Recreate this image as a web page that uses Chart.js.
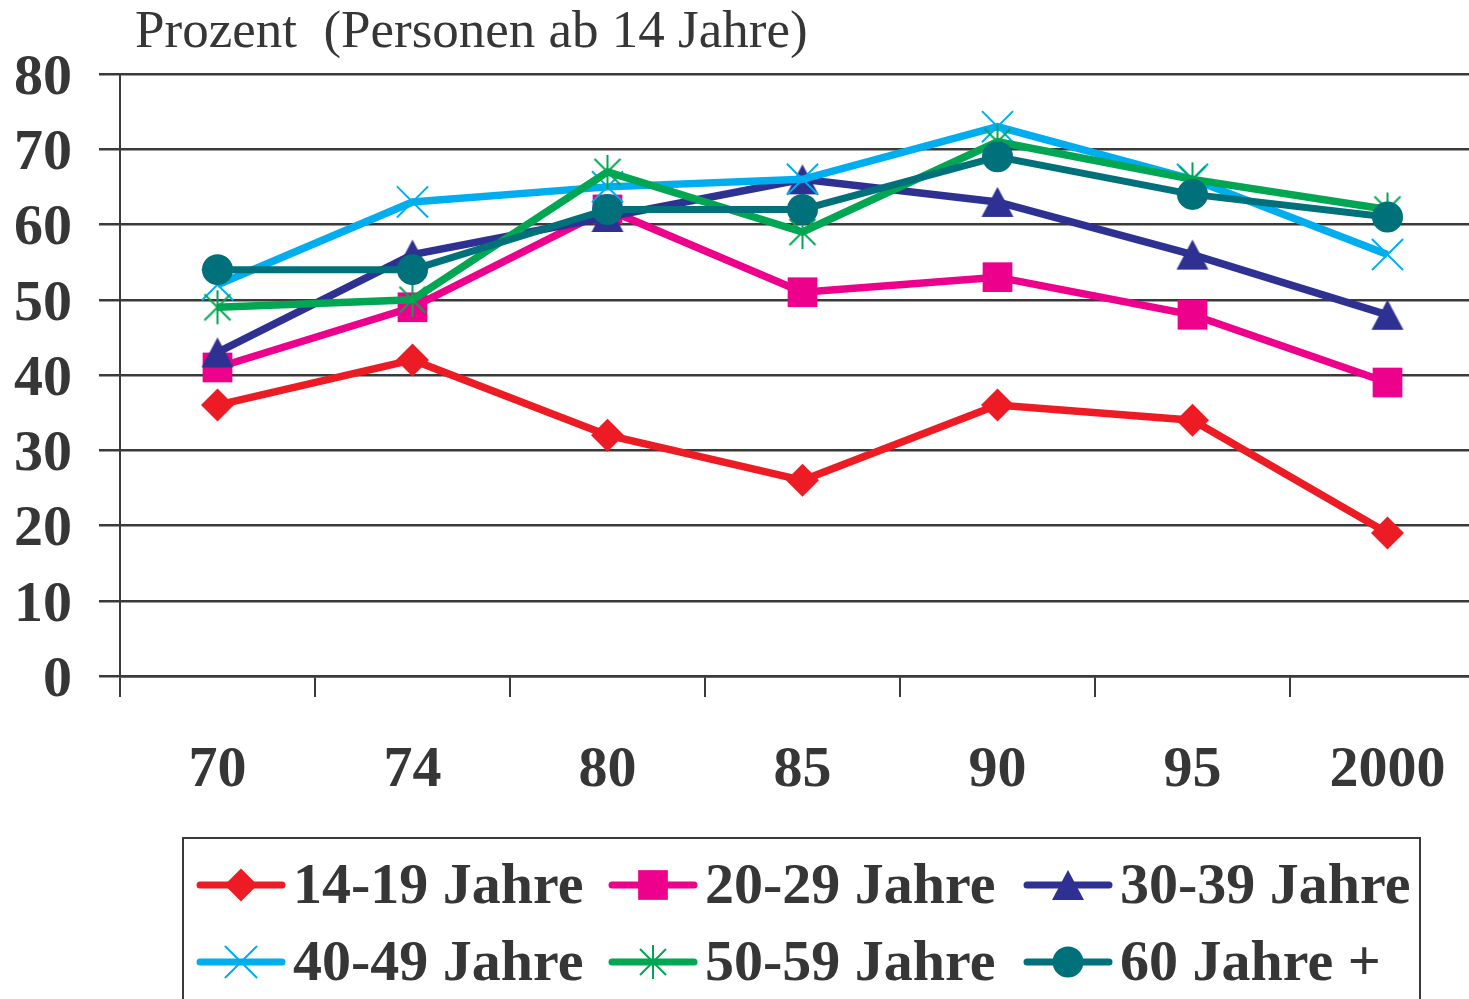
<!DOCTYPE html>
<html>
<head>
<meta charset="utf-8">
<script src="https://cdn.jsdelivr.net/npm/chart.js@4/dist/chart.umd.min.js"></script>
<style>
    html, body { margin: 0; padding: 0; background: #fff; overflow: hidden; }
    #wrap { position: relative; width: 1520px; height: 1020px; }
    #chart { width: 1520px; height: 1020px; }
</style>
</head>
<body>
<div id="wrap"><canvas id="chart" width="1520" height="1020"></canvas></div>
<script>
// --- Data ---
const years = ["70", "74", "80", "85", "90", "95", "2000"];
const yTicks = [0, 10, 20, 30, 40, 50, 60, 70, 80];
const seriesNames = ["14-19 Jahre", "20-29 Jahre", "30-39 Jahre", "40-49 Jahre", "50-59 Jahre", "60 Jahre +"];

const age14to19 = [36, 42, 32, 26, 36, 34, 19];
const age20to29 = [41, 49, 62, 51, 53, 48, 39];
const age30to39 = [43, 56, 61, 66, 63, 56, 48];
const age40to49 = [52, 63, 65, 66, 73, 66, 56];
const age50to59 = [49, 50, 67, 59, 71, 66, 62];
const age60plus = [54, 54, 62, 62, 69, 64, 61];

const titleText = "Prozent  (Personen ab 14 Jahre)";
const textColor = "#363636";
const gridColor = "#3a3a3a";

// Excel-like asterisk marker (X with a vertical bar)
function makeStar(color) {
    const c = document.createElement("canvas");
    c.width = 36; c.height = 36;
    const g = c.getContext("2d");
    g.strokeStyle = color;
    g.lineWidth = 2;
    g.beginPath();
    g.moveTo(18, 1); g.lineTo(18, 35);
    g.moveTo(5, 5); g.lineTo(31, 31);
    g.moveTo(31, 5); g.lineTo(5, 31);
    g.stroke();
    return c;
}

// filled triangle centred on its bounding box, like the Excel marker
function makeTriangle(color) {
    const c = document.createElement("canvas");
    c.width = 34; c.height = 32;
    const g = c.getContext("2d");
    g.fillStyle = color;
    g.beginPath();
    g.moveTo(17, 1); g.lineTo(33, 31); g.lineTo(1, 31);
    g.closePath();
    g.fill();
    return c;
}

function series(label, data, color, style, radius, lineWidth, pointBorder, order) {
    return {
        label: label,
        data: data,
        borderColor: color,
        backgroundColor: color,
        borderWidth: lineWidth,
        pointStyle: style,
        pointRadius: radius,
        pointHoverRadius: radius,
        pointBorderWidth: pointBorder,
        pointBackgroundColor: color,
        pointBorderColor: color,
        tension: 0,
        order: order
    };
}

// --- Plugins ---
const titlePlugin = {
    id: "topTitle",
    afterDraw(chart) {
        const ctx = chart.ctx;
        ctx.save();
        ctx.font = "normal 53px 'Liberation Serif', serif";
        ctx.fillStyle = textColor;
        ctx.textAlign = "left";
        ctx.textBaseline = "alphabetic";
        ctx.fillText(titleText, 135, 47);
        ctx.restore();
    }
};

const legendPlugin = {
    id: "boxLegend",
    afterDraw(chart) {
        const ctx = chart.ctx;
        const drawPoint = Chart.helpers && Chart.helpers.drawPoint;
        ctx.save();
        ctx.strokeStyle = gridColor;
        ctx.lineWidth = 2;
        ctx.strokeRect(183, 838, 1237, 175);

        const colX = [200, 612, 1027];
        const rowY = [885, 962];
        ctx.font = "bold 58px 'Liberation Serif', serif";
        ctx.textBaseline = "middle";
        chart.data.datasets.forEach((ds, i) => {
            const x = colX[i % 3];
            const y = rowY[Math.floor(i / 3)];
            ctx.strokeStyle = ds.borderColor;
            ctx.fillStyle = ds.backgroundColor;
            ctx.lineWidth = 7;
            ctx.lineCap = "round";
            ctx.beginPath();
            ctx.moveTo(x, y);
            ctx.lineTo(x + 82, y);
            ctx.stroke();
            if (drawPoint) {
                ctx.lineWidth = ds.pointBorderWidth;
                drawPoint(ctx, {
                    pointStyle: ds.pointStyle,
                    rotation: 0,
                    radius: ds.pointRadius,
                    borderWidth: ds.pointBorderWidth
                }, x + 41, y);
            }
            ctx.fillStyle = textColor;
            ctx.fillText(ds.label, x + 93, y + 3);
        });
        ctx.restore();
    }
};

// --- Chart ---
const ctx = document.getElementById("chart").getContext("2d");
new Chart(ctx, {
    type: "line",
    data: {
        labels: years,
        datasets: [
            series(seriesNames[0], age14to19, "#ED1C24", "rectRot", 16.5, 7.5, 0, 5),
            series(seriesNames[1], age20to29, "#EC008C", "rect", 21, 7.5, 0, 4),
            series(seriesNames[2], age30to39, "#2E3192", makeTriangle("#2E3192"), 17, 7.5, 0, 3),
            series(seriesNames[3], age40to49, "#00AEEF", "crossRot", 22, 7.5, 2, 2),
            series(seriesNames[4], age50to59, "#00A651", makeStar("#00A651"), 18, 7.5, 2, 1),
            series(seriesNames[5], age60plus, "#00717A", "circle", 15.5, 7, 0, 0)
        ]
    },
    options: {
        responsive: false,
        animation: false,
        events: [],
        layout: { padding: { left: 0, top: 74, right: 35, bottom: 194 } },
        plugins: {
            legend: { display: false },
            title: { display: false },
            tooltip: { enabled: false }
        },
        scales: {
            x: {
                offset: true,
                grid: {
                    offset: true,
                    drawOnChartArea: false,
                    drawTicks: true,
                    tickLength: 21,
                    color: gridColor,
                    lineWidth: 2
                },
                border: { display: true, color: gridColor, width: 2.5 },
                ticks: {
                    padding: 39,
                    color: textColor,
                    font: { family: "'Liberation Serif', serif", size: 58, weight: "bold" }
                },
                afterFit(scale) { scale.height = 150; }
            },
            y: {
                min: 0,
                max: 80,
                afterBuildTicks(scale) { scale.ticks = yTicks.map(v => ({ value: v })); },
                grid: {
                    color: gridColor,
                    lineWidth: 2.5,
                    tickLength: 21,
                    drawTicks: true
                },
                border: { display: true, color: gridColor, width: 2 },
                ticks: {
                    padding: 27,
                    labelOffset: 5,
                    color: textColor,
                    font: { family: "'Liberation Serif', serif", size: 58, weight: "bold" }
                },
                afterFit(scale) { scale.width = 120; }
            }
        }
    },
    plugins: [titlePlugin, legendPlugin]
});
</script>
</body>
</html>
